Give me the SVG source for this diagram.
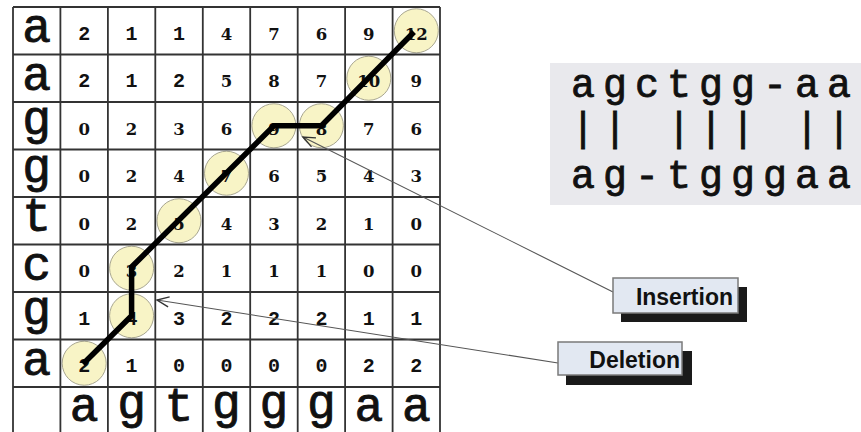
<svg xmlns="http://www.w3.org/2000/svg" width="861" height="432" viewBox="0 0 861 432">
<defs>
<style>
.grid line{stroke:#333;stroke-width:1.8}
.lab{font-family:"Liberation Mono",monospace;font-weight:normal;font-size:48px;text-anchor:middle;fill:#111;stroke:#111;stroke-width:0.9}
.m{font-family:"Liberation Mono",monospace;font-weight:bold;font-size:20px;text-anchor:middle;fill:#111}
.s{font-family:"DejaVu Serif",serif;font-weight:bold;font-size:16.5px;text-anchor:middle;fill:#111}
.hl{fill:#f8f4c6;stroke:#a8a690;stroke-width:1}
.aln{font-family:"Liberation Mono",monospace;font-weight:normal;font-size:40px;text-anchor:middle;fill:#111;stroke:#111;stroke-width:0.8}
.box{fill:#e2e8f2;stroke:#7a7a7a;stroke-width:1.5}
.shadow{fill:#1a1a1a}
.call{font-family:"Liberation Sans",Arial,sans-serif;font-weight:bold;font-size:23px;text-anchor:end;fill:#111}
.conn{stroke:#555;stroke-width:1.1;fill:none}
</style>
<marker id="arr" markerUnits="userSpaceOnUse" markerWidth="16" markerHeight="12" refX="13" refY="6" orient="auto">
<path d="M1,1 L13,6 L1,11" fill="none" stroke="#333" stroke-width="1.4"/>
</marker>
</defs>
<rect width="861" height="432" fill="#fff"/>

<g id="highlights">
<circle class="hl" cx="84.2" cy="363.25" r="22"/>
<circle class="hl" cx="131.6" cy="315.75" r="22"/>
<circle class="hl" cx="131.6" cy="268.25" r="22"/>
<circle class="hl" cx="179" cy="220.75" r="22"/>
<circle class="hl" cx="226.5" cy="173.25" r="22"/>
<circle class="hl" cx="273.9" cy="125.75" r="22"/>
<circle class="hl" cx="321.4" cy="125.75" r="22"/>
<circle class="hl" cx="368.8" cy="78.25" r="22"/>
<circle class="hl" cx="416.3" cy="30.75" r="22"/>
</g>

<g id="grid" class="grid">
<line x1="13" y1="7" x2="13" y2="435"/>
<line x1="60.4" y1="7" x2="60.4" y2="435"/>
<line x1="107.9" y1="7" x2="107.9" y2="435"/>
<line x1="155.3" y1="7" x2="155.3" y2="435"/>
<line x1="202.8" y1="7" x2="202.8" y2="435"/>
<line x1="250.2" y1="7" x2="250.2" y2="435"/>
<line x1="297.7" y1="7" x2="297.7" y2="435"/>
<line x1="345.1" y1="7" x2="345.1" y2="435"/>
<line x1="392.6" y1="7" x2="392.6" y2="435"/>
<line x1="440" y1="7" x2="440" y2="435"/>
<line x1="13" y1="7" x2="440" y2="7"/>
<line x1="13" y1="54.5" x2="440" y2="54.5"/>
<line x1="13" y1="102" x2="440" y2="102"/>
<line x1="13" y1="149.5" x2="440" y2="149.5"/>
<line x1="13" y1="197" x2="440" y2="197"/>
<line x1="13" y1="244.5" x2="440" y2="244.5"/>
<line x1="13" y1="292" x2="440" y2="292"/>
<line x1="13" y1="339.5" x2="440" y2="339.5"/>
<line x1="13" y1="387" x2="440" y2="387"/>
</g>

<g id="row-labels">
<text class="lab" x="36.7" y="42">a</text>
<text class="lab" x="36.7" y="89.5">a</text>
<text class="lab" x="36.7" y="134">g</text>
<text class="lab" x="36.7" y="181.5">g</text>
<text class="lab" x="36.7" y="231">t</text>
<text class="lab" x="36.7" y="279.5">c</text>
<text class="lab" x="36.7" y="324">g</text>
<text class="lab" x="36.7" y="374.5">a</text>
</g>

<g id="col-labels">
<text class="lab" x="84.2" y="421">a</text>
<text class="lab" x="131.6" y="418">g</text>
<text class="lab" x="179" y="421">t</text>
<text class="lab" x="226.5" y="418">g</text>
<text class="lab" x="273.9" y="418">g</text>
<text class="lab" x="321.4" y="418">g</text>
<text class="lab" x="368.8" y="421">a</text>
<text class="lab" x="416.3" y="421">a</text>
</g>

<g id="values">
<text class="m" x="84.2" y="39.75">2</text><text class="m" x="131.6" y="39.75">1</text><text class="m" x="179" y="39.75">1</text><text class="s" x="226.5" y="39.75">4</text><text class="s" x="273.9" y="39.75">7</text><text class="s" x="321.4" y="39.75">6</text><text class="s" x="368.8" y="39.75">9</text><text class="s" x="416.3" y="39.75">12</text>
<text class="m" x="84.2" y="87.25">2</text><text class="m" x="131.6" y="87.25">1</text><text class="m" x="179" y="87.25">2</text><text class="s" x="226.5" y="87.25">5</text><text class="s" x="273.9" y="87.25">8</text><text class="s" x="321.4" y="87.25">7</text><text class="s" x="368.8" y="87.25">10</text><text class="s" x="416.3" y="87.25">9</text>
<text class="s" x="84.2" y="134.75">0</text><text class="s" x="131.6" y="134.75">2</text><text class="s" x="179" y="134.75">3</text><text class="s" x="226.5" y="134.75">6</text><text class="s" x="273.9" y="134.75">9</text><text class="s" x="321.4" y="134.75">8</text><text class="s" x="368.8" y="134.75">7</text><text class="s" x="416.3" y="134.75">6</text>
<text class="s" x="84.2" y="182.25">0</text><text class="s" x="131.6" y="182.25">2</text><text class="s" x="179" y="182.25">4</text><text class="s" x="226.5" y="182.25">7</text><text class="s" x="273.9" y="182.25">6</text><text class="s" x="321.4" y="182.25">5</text><text class="s" x="368.8" y="182.25">4</text><text class="s" x="416.3" y="182.25">3</text>
<text class="s" x="84.2" y="229.75">0</text><text class="s" x="131.6" y="229.75">2</text><text class="s" x="179" y="229.75">5</text><text class="s" x="226.5" y="229.75">4</text><text class="s" x="273.9" y="229.75">3</text><text class="s" x="321.4" y="229.75">2</text><text class="s" x="368.8" y="229.75">1</text><text class="s" x="416.3" y="229.75">0</text>
<text class="s" x="84.2" y="277.25">0</text><text class="s" x="131.6" y="277.25">3</text><text class="s" x="179" y="277.25">2</text><text class="s" x="226.5" y="277.25">1</text><text class="s" x="273.9" y="277.25">1</text><text class="s" x="321.4" y="277.25">1</text><text class="s" x="368.8" y="277.25">0</text><text class="s" x="416.3" y="277.25">0</text>
<text class="m" x="84.2" y="324.75">1</text><text class="m" x="131.6" y="324.75">4</text><text class="m" x="179" y="324.75">3</text><text class="m" x="226.5" y="324.75">2</text><text class="m" x="273.9" y="324.75">2</text><text class="m" x="321.4" y="324.75">2</text><text class="m" x="368.8" y="324.75">1</text><text class="m" x="416.3" y="324.75">1</text>
<text class="m" x="84.2" y="372.25">2</text><text class="m" x="131.6" y="372.25">1</text><text class="m" x="179" y="372.25">0</text><text class="m" x="226.5" y="372.25">0</text><text class="m" x="273.9" y="372.25">0</text><text class="m" x="321.4" y="372.25">0</text><text class="m" x="368.8" y="372.25">2</text><text class="m" x="416.3" y="372.25">2</text>
</g>

<g id="path">
<polyline points="83,364 131.6,315.75 131.6,267 273.9,125.75 321.4,125.75 414,32" fill="none" stroke="#000" stroke-width="5.5" stroke-linejoin="miter"/>
</g>

<g id="alignment">
<rect x="550" y="63" width="311" height="142" fill="#e9e9ed"/>
<text class="aln" x="583 615 647 679 711 743 775 807 839" y="97">agctgg-aa</text>
<text class="aln" x="583 615 647 679 711 743 775 807 839" y="141">|| ||| ||</text>
<text class="aln" x="583 615 647 679 711 743 775 807 839" y="188">ag-tgggaa</text>
</g>

<g id="connectors">
<line class="conn" x1="613" y1="292" x2="303" y2="137" marker-end="url(#arr)"/>
<line class="conn" x1="558" y1="363" x2="157" y2="300" marker-end="url(#arr)"/>
</g>

<g id="insertion">
<rect class="shadow" x="621" y="287" width="126" height="35"/>
<rect class="box" x="613" y="278" width="125" height="35"/>
<text class="call" x="733" y="305">Insertion</text>
</g>

<g id="deletion">
<rect class="shadow" x="566" y="351" width="126" height="34"/>
<rect class="box" x="558" y="342" width="124" height="33"/>
<text class="call" x="680" y="368">Deletion</text>
</g>
</svg>
